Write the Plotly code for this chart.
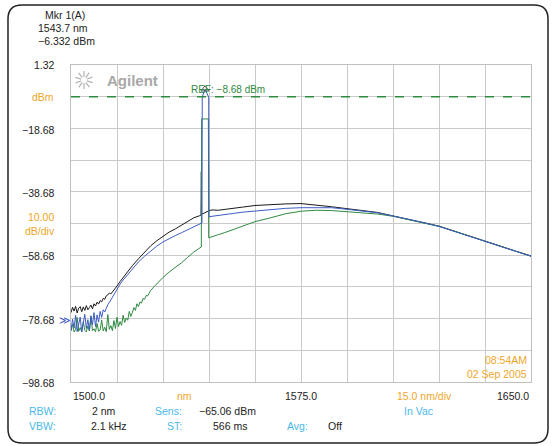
import plotly.graph_objects as go
import numpy as np

# ---------------- data ----------------
black_wl = [1500.0,1500.5,1501.0,1501.5,1502.0,1502.5,1503.0,1503.5,1504.0,1504.5,
            1505.0,1505.5,1506.0,1506.5,1507.0,1507.5,1508.0,1508.5,1509.0,1509.5,
            1510.0,1510.5,1511.0,1511.5,1512.0,1512.5,
            1513,1514,1515,1516,1517,1518,1520,1522,1524,1526,1528,1530,1532,1534,
            1536,1538,1540,1542,1542.4,1542.5,1542.6,1545.1,1546,1548,1550,1553,1556,
            1560,1565,1570,1575,1580,1585,1590,1595,1600,1605,1610,1615,1620,1625,
            1630,1635,1640,1645,1650]
black_db = [-76.8,-75.1,-76.3,-74.8,-76.9,-75.4,-74.9,-76.5,-75.0,-76.1,
            -74.6,-75.9,-75.2,-74.4,-75.6,-74.0,-74.7,-73.5,-74.1,-73.0,
            -73.4,-72.3,-72.6,-71.5,-71.2,-70.6,
            -70.9,-69.8,-68.4,-67.0,-65.7,-64.5,-62.0,-59.8,-57.6,-55.7,-54.1,-52.7,-51.4,-50.4,
            -49.3,-48.1,-46.9,-46.2,-46.0,-32.3,-45.8,-44.6,-44.4,-44.5,-44.2,-43.8,-43.5,
            -43.0,-42.7,-42.5,-42.4,-42.8,-43.4,-44.0,-44.5,-45.2,-46.3,-47.3,-48.4,-49.5,-51.1,
            -52.6,-54.2,-55.8,-57.4,-58.9]

blue_wl = [1500.0,1500.5,1501.0,1501.5,1502.0,1502.5,1503.0,1503.5,1504.0,1504.5,
           1505.0,1505.5,1506.0,1506.5,1507.0,1507.5,1508.0,1508.5,1509.0,1509.5,
           1510.0,1510.5,1511.0,
           1512,1513,1514,1515,1516,1517,1518,1520,1522,1524,1526,1528,1530,1532,1534,
           1536,1538,1540,1542,1542.7,1542.8,1543.7,1544.9,1545.0,1546,1548,1550,1553,1556,
           1560,1565,1570,1575,1580,1585,1590,1595,1600,1605,1610,1615,1620,1625,
           1630,1635,1640,1645,1650]
blue_db = [-82.5,-78.9,-81.7,-77.6,-82.8,-80.1,-78.2,-82.9,-79.4,-77.3,
           -81.8,-79.0,-82.4,-77.9,-80.6,-76.8,-81.2,-77.5,-79.8,-76.4,
           -78.3,-75.9,-76.6,
           -74.3,-72.8,-71.0,-69.3,-67.8,-66.5,-65.3,-62.9,-60.8,-59.0,-57.3,-55.8,-54.5,-53.4,-52.5,
           -51.6,-50.6,-49.6,-48.8,-48.5,-8.8,-6.3,-8.8,-46.6,-46.4,-46.2,-45.9,-45.5,-45.1,
           -44.7,-44.3,-43.9,-43.7,-43.6,-43.7,-44.2,-44.7,-45.3,-46.3,-47.3,-48.4,-49.6,-51.1,
           -52.7,-54.3,-55.9,-57.4,-59.0]

green_wl = [1500.0,1500.5,1501.0,1501.5,1502.0,1502.5,1503.0,1503.5,1504.0,1504.5,
            1505.0,1505.5,1506.0,1506.5,1507.0,1507.5,1508.0,1508.5,1509.0,1509.5,
            1510.0,1510.5,1511.0,1511.5,1512.0,1512.5,1513.0,1513.5,1514.0,1514.5,
            1515.0,1515.5,1516.0,1516.5,1517.0,1517.5,1518.0,1518.5,1519.0,1519.5,
            1520.0,1520.5,1521.0,1521.5,1522.0,1522.5,1523.0,1523.5,1524.0,1524.5,1525.0,
            1526,1527,1528,1529,1530,1532,1534,1536,1538,1540,1542,1542.5,1542.6,1544.8,1544.9,
            1546,1548,1550,1553,1556,1560,1565,1570,1575,1580,1585,1590,1595,1600,1605,
            1610,1615,1620,1625,1630,1635,1640,1645,1650]
green_db = [-82.6,-80.4,-82.9,-82.1,-78.3,-82.7,-81.5,-82.8,-79.6,-82.4,
            -82.9,-81.0,-82.6,-77.8,-82.5,-81.9,-82.8,-80.2,-82.7,-82.3,
            -79.1,-82.6,-81.4,-82.8,-77.4,-82.1,-80.9,-82.5,-79.3,-81.8,
            -78.2,-81.2,-79.6,-80.8,-77.6,-79.9,-78.5,-79.2,-76.4,-78.0,
            -76.8,-75.2,-76.1,-74.0,-74.9,-73.4,-73.8,-72.3,-72.6,-71.4,-71.5,
            -69.8,-68.7,-67.6,-66.5,-65.7,-64.0,-62.6,-61.1,-59.4,-57.7,-56.4,-56.1,-15.7,-15.7,-53.2,
            -52.8,-52.2,-51.6,-50.5,-49.4,-48.1,-46.9,-45.6,-44.8,-44.5,-44.6,-44.9,-45.2,-45.7,-46.4,
            -47.4,-48.5,-49.6,-51.1,-52.7,-54.3,-55.9,-57.5,-59.0]

ref_level = -8.68
marker_wl = 1543.7
marker_db = -6.332
y_ticks = [1.32, -18.68, -38.68, -58.68, -78.68, -98.68]
x_ticks = ["1500.0", "1575.0", "1650.0"]

# ---------------- layout geometry ----------------
W, H = 555, 446
L, R, T, B = 71, 24, 65, 64
PW, PH = W - L - R, H - T - B

def px(x):
    return (x - L) / PW

def py(y):
    return (H - B - y) / PH

BLACK = "#1a1a1a"
BLUE = "#3d5cc4"
GREEN = "#2e8a40"
ORANGE = "#f0a628"
CYAN = "#4ab8ea"
FONT = "Liberation Sans, Arial, sans-serif"

fig = go.Figure()
fig.add_trace(go.Scatter(x=black_wl, y=black_db, mode="lines",
                         line=dict(color=BLACK, width=1), hoverinfo="skip"))
fig.add_trace(go.Scatter(x=green_wl, y=green_db, mode="lines",
                         line=dict(color=GREEN, width=1), hoverinfo="skip"))
fig.add_trace(go.Scatter(x=blue_wl, y=blue_db, mode="lines",
                         line=dict(color=BLUE, width=1), hoverinfo="skip"))
fig.add_trace(go.Scatter(x=[marker_wl], y=[marker_db], mode="markers",
                         marker=dict(symbol="triangle-up-open", size=7,
                                     color="#555555", line=dict(width=1)),
                         hoverinfo="skip"))

# reference line
fig.add_shape(type="line", xref="paper", yref="y", x0=0, x1=1,
              y0=ref_level, y1=ref_level,
              line=dict(color=GREEN, width=1.5, dash="dash"))

ann = []
def txt(x, y, s, color="#222222", xa="left", size=10.5):
    ann.append(dict(x=px(x), y=py(y), xref="paper", yref="paper", text=s,
                    showarrow=False, xanchor=xa, yanchor="middle",
                    font=dict(family=FONT, size=size, color=color)))

# header
txt(43, 15, "Mkr 1(A)")
txt(36, 28, "1543.7 nm")
txt(36, 41, "\u22126.332 dBm")

# y labels
y_pix = [65, 130, 193, 256, 320, 383]
for v, yy in zip(y_ticks, y_pix):
    s = ("%.2f" % v).replace("-", "\u2212")
    txt(57, yy, s, xa="right")
txt(56, 97, "dBm", ORANGE, xa="right")
txt(56, 217, "10.00", ORANGE, xa="right")
txt(57, 231, "dB/div", ORANGE, xa="right")
txt(57, 320, "\u226b", BLUE, xa="left", size=11)

# x labels
txt(71, 396, x_ticks[0])
txt(184, 396, "nm", ORANGE, xa="center")
txt(301, 396, x_ticks[1], xa="center")
txt(424, 396, "15.0 nm/div", ORANGE, xa="center")
txt(531, 396, x_ticks[2], xa="right")

# status rows
txt(58, 411, "RBW:", CYAN, xa="right")
txt(118, 411, "2 nm", xa="right")
txt(184, 411, "Sens:", CYAN, xa="right")
txt(197, 411, "\u221265.06 dBm")
txt(418, 411, "In Vac", CYAN, xa="center")
txt(58, 426, "VBW:", CYAN, xa="right")
txt(129, 426, "2.1 kHz", xa="right")
txt(184, 426, "ST:", CYAN, xa="right")
txt(249, 426, "566 ms", xa="right")
txt(310, 426, "Avg:", CYAN, xa="right")
txt(326, 426, "Off")

# date/time
txt(529, 360, "08:54AM", ORANGE, xa="right")
txt(529, 374, "02 Sep 2005", ORANGE, xa="right")

# REF label
txt(228, 90, "REF: \u22128.68 dBm", GREEN, xa="center", size=10)

# Agilent logo text
ann.append(dict(x=px(105), y=py(80), xref="paper", yref="paper", text="<b>Agilent</b>",
                showarrow=False, xanchor="left", yanchor="middle",
                font=dict(family=FONT, size=15, color="#a8a8a8")))

shapes = []
# sparkle logo
cx, cy = 84, 80
for k in range(10):
    a = 2 * np.pi * k / 10 + 0.3
    r0, r1 = 3, 9
    shapes.append(dict(type="line", xref="paper", yref="paper",
                       x0=px(cx + r0 * np.cos(a)), y0=py(cy + r0 * np.sin(a)),
                       x1=px(cx + r1 * np.cos(a)), y1=py(cy + r1 * np.sin(a)),
                       line=dict(color="#b4b4b4", width=1.2)))

# rounded outer border
x0b, y0b, x1b, y1b, rr = 8, 5, 548, 443, 14
def P(x, y):
    return "%.5f,%.5f" % (px(x), py(y))
path = ("M " + P(x0b + rr, y0b) + " L " + P(x1b - rr, y0b) +
        " Q " + P(x1b, y0b) + " " + P(x1b, y0b + rr) +
        " L " + P(x1b, y1b - rr) + " Q " + P(x1b, y1b) + " " + P(x1b - rr, y1b) +
        " L " + P(x0b + rr, y1b) + " Q " + P(x0b, y1b) + " " + P(x0b, y1b - rr) +
        " L " + P(x0b, y0b + rr) + " Q " + P(x0b, y0b) + " " + P(x0b + rr, y0b) + " Z")
shapes.append(dict(type="path", xref="paper", yref="paper", path=path,
                   line=dict(color="#222222", width=1.5), layer="below"))

fig.update_layout(
    width=W, height=H,
    margin=dict(l=L, r=R, t=T, b=B),
    paper_bgcolor="white", plot_bgcolor="white",
    showlegend=False,
    annotations=ann,
    shapes=list(fig.layout.shapes) + shapes,
    xaxis=dict(range=[1500, 1650], tick0=1500, dtick=15, showticklabels=False,
               showgrid=True, gridcolor="#c9c9c9", gridwidth=1, zeroline=False,
               showline=True, linecolor="#c0c0c0", linewidth=1, mirror=True,
               ticks=""),
    yaxis=dict(range=[-98.68, 1.32], tick0=1.32, dtick=10, showticklabels=False,
               showgrid=True, gridcolor="#c9c9c9", gridwidth=1, zeroline=False,
               showline=True, linecolor="#c0c0c0", linewidth=1, mirror=True,
               ticks=""),
)

fig.write_html("out.html", config={"displayModeBar": False},
               post_script="document.body.style.margin='0px';document.body.style.overflow='hidden';")
